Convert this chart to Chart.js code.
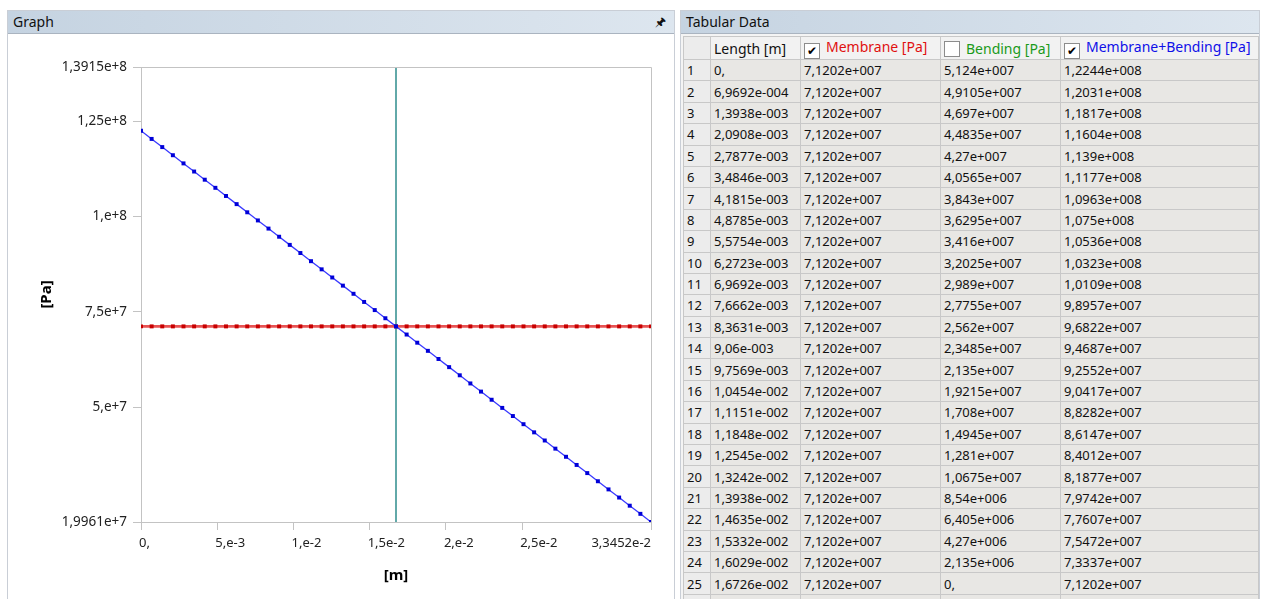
<!DOCTYPE html>
<html>
<head>
<meta charset="utf-8">
<script src="https://cdn.jsdelivr.net/npm/chart.js@4"></script>
<style>
  html, body { margin: 0; padding: 0; background: #fff; }
  body { width: 1262px; height: 599px; position: relative; overflow: hidden; font-family: "Noto Sans", sans-serif; }
  .panel { position: absolute; top: 10px; border: 1px solid #c9ced6; background: #fff; }
  .panel .bar {
    height: 22px; line-height: 22px; padding-left: 5px; font-size: 14px; color: #111;
    background: linear-gradient(to right, #c5d3e1, #dde6ef);
    border-bottom: 1px solid #aab4c0;
  }
  #graphPanel { left: 7px; width: 666px; height: 600px; }
  #tablePanel { left: 680px; width: 578px; height: 600px; background: #f4f4f4; }
  .pin { position: absolute; right: 8px; top: 0; font-size: 12px; }
  #chartBox { position: absolute; left: 0; top: 23px; }
  table { border-collapse: collapse; table-layout: fixed; font-size: 13px; color: #111; margin: 2px 0 0 2px; }
  td, th { border: 1px solid #c8c8c8; height: 20.4px; padding: 0 0 0 3px; white-space: nowrap; overflow: hidden; text-align: left; font-weight: normal; }
  th { background: #f2f2f2; height: 19px; line-height: 19px; font-size: 14px; }
  td { background: #e8e7e4; }
  td.num, th.num { background: #ececec; }
  .chk { display: inline-block; width: 14px; height: 14px; border: 1px solid #8c8c8c; background: #fff; vertical-align: -3px; margin-right: 6px; font-size: 12px; line-height: 14px; text-align: center; color: #000; }
</style>
</head>
<body>
<div class="panel" id="graphPanel">
  <div class="bar">Graph<span class="pin">&#x1F588;</span></div>
  <div id="chartBox"><canvas id="graph" width="665" height="566"></canvas></div>
</div>
<div class="panel" id="tablePanel">
  <div class="bar">Tabular Data</div>
  <table id="tab">
    <colgroup><col style="width:27px"><col style="width:90px"><col style="width:140px"><col style="width:120px"><col style="width:198px"></colgroup>
    <thead>
      <tr>
        <th class="num"></th>
        <th>Length [m]</th>
        <th><span class="chk">&#10004;</span><span style="color:#e01010">Membrane [Pa]</span></th>
        <th><span class="chk"></span><span style="color:#1a9a1a">Bending [Pa]</span></th>
        <th><span class="chk">&#10004;</span><span style="color:#1010e8">Membrane+Bending [Pa]</span></th>
      </tr>
    </thead>
    <tbody></tbody>
  </table>
</div>

<script>
// path length along the linearization line [m]
const lengths = [
  0, 6.9692e-4, 1.3938e-3, 2.0908e-3, 2.7877e-3, 3.4846e-3, 4.1815e-3, 4.8785e-3, 5.5754e-3, 6.2723e-3,
  6.9692e-3, 7.6662e-3, 8.3631e-3, 9.06e-3, 9.7569e-3, 1.0454e-2, 1.1151e-2, 1.1848e-2, 1.2545e-2, 1.3242e-2,
  1.3938e-2, 1.4635e-2, 1.5332e-2, 1.6029e-2, 1.6726e-2, 1.7423e-2, 1.812e-2, 1.8817e-2, 1.9514e-2, 2.0211e-2,
  2.0908e-2, 2.1604e-2, 2.2301e-2, 2.2998e-2, 2.3695e-2, 2.4392e-2, 2.5089e-2, 2.5786e-2, 2.6483e-2, 2.718e-2,
  2.7877e-2, 2.8574e-2, 2.9271e-2, 2.9968e-2, 3.0665e-2, 3.1362e-2, 3.2058e-2, 3.2755e-2, 3.3452e-2
];

const membrane = [
  7.1202e7, 7.1202e7, 7.1202e7, 7.1202e7, 7.1202e7, 7.1202e7, 7.1202e7, 7.1202e7, 7.1202e7, 7.1202e7,
  7.1202e7, 7.1202e7, 7.1202e7, 7.1202e7, 7.1202e7, 7.1202e7, 7.1202e7, 7.1202e7, 7.1202e7, 7.1202e7,
  7.1202e7, 7.1202e7, 7.1202e7, 7.1202e7, 7.1202e7, 7.1202e7, 7.1202e7, 7.1202e7, 7.1202e7, 7.1202e7,
  7.1202e7, 7.1202e7, 7.1202e7, 7.1202e7, 7.1202e7, 7.1202e7, 7.1202e7, 7.1202e7, 7.1202e7, 7.1202e7,
  7.1202e7, 7.1202e7, 7.1202e7, 7.1202e7, 7.1202e7, 7.1202e7, 7.1202e7, 7.1202e7, 7.1202e7
];

const bending = [
  5.124e7, 4.9105e7, 4.697e7, 4.4835e7, 4.27e7, 4.0565e7, 3.843e7, 3.6295e7, 3.416e7, 3.2025e7,
  2.989e7, 2.7755e7, 2.562e7, 2.3485e7, 2.135e7, 1.9215e7, 1.708e7, 1.4945e7, 1.281e7, 1.0675e7,
  8.54e6, 6.405e6, 4.27e6, 2.135e6, 0, -2.135e6, -4.27e6, -6.405e6, -8.54e6, -1.0675e7,
  -1.281e7, -1.4945e7, -1.708e7, -1.9215e7, -2.135e7, -2.3485e7, -2.562e7, -2.7755e7, -2.989e7, -3.2025e7,
  -3.416e7, -3.6295e7, -3.843e7, -4.0565e7, -4.27e7, -4.4835e7, -4.697e7, -4.9105e7, -5.124e7
];

const memBend = [
  1.2244e8, 1.2031e8, 1.1817e8, 1.1604e8, 1.139e8, 1.1177e8, 1.0963e8, 1.075e8, 1.0536e8, 1.0323e8,
  1.0109e8, 9.8957e7, 9.6822e7, 9.4687e7, 9.2552e7, 9.0417e7, 8.8282e7, 8.6147e7, 8.4012e7, 8.1877e7,
  7.9742e7, 7.7607e7, 7.5472e7, 7.3337e7, 7.1202e7, 6.9067e7, 6.6932e7, 6.4797e7, 6.2662e7, 6.0527e7,
  5.8392e7, 5.6257e7, 5.4122e7, 5.1987e7, 4.9852e7, 4.7717e7, 4.5582e7, 4.3447e7, 4.1312e7, 3.9177e7,
  3.7042e7, 3.4907e7, 3.2772e7, 3.0637e7, 2.8502e7, 2.6367e7, 2.4232e7, 2.2097e7, 1.9961e7
];

const xTicks = [0, 5e-3, 1e-2, 1.5e-2, 2e-2, 2.5e-2, 3.3452e-2];
const yTicks = [1.9961e7, 5e7, 7.5e7, 1e8, 1.25e8, 1.3915e8];
const cursorX = 1.6726e-2;

// 1,2345e+007 style numbers
function fmt(v, pad) {
  if (v === 0) return '0,';
  let [m, e] = v.toExponential(4).split('e');
  m = m.replace(/0+$/, '').replace('.', ',');
  let digits = e.slice(1);
  if (pad) digits = digits.padStart(3, '0');
  return m + 'e' + e[0] + digits;
}

// table rows
const tbody = document.querySelector('#tab tbody');
lengths.forEach((len, i) => {
  const tr = document.createElement('tr');
  [String(i + 1), fmt(len, true), fmt(membrane[i], true), fmt(bending[i], true), fmt(memBend[i], true)]
    .forEach((t, j) => {
      const td = document.createElement('td');
      if (j === 0) td.className = 'num';
      td.textContent = t;
      tr.appendChild(td);
    });
  tbody.appendChild(tr);
});

const FONT = '"Noto Sans", sans-serif';
const AXIS_COLOR = '#c3c3c3';

// frame on top/right and custom x labels (first left-aligned, last right-aligned)
const framePlugin = {
  id: 'frame',
  afterDraw(chart) {
    const { ctx, chartArea: a, scales } = chart;
    ctx.save();
    ctx.strokeStyle = AXIS_COLOR;
    ctx.lineWidth = 1;
    ctx.beginPath();
    ctx.moveTo(a.left, Math.round(a.top) + 0.5);
    ctx.lineTo(Math.round(a.right) + 0.5, Math.round(a.top) + 0.5);
    ctx.lineTo(Math.round(a.right) + 0.5, a.bottom);
    ctx.stroke();

    ctx.font = '13px ' + FONT;
    ctx.fillStyle = '#222';
    ctx.textBaseline = 'middle';
    xTicks.forEach((t, i) => {
      const px = scales.x.getPixelForValue(t);
      ctx.textAlign = i === xTicks.length - 1 ? 'right' : 'left';
      ctx.fillText(fmt(t, false), i === xTicks.length - 1 ? px : px - 2, a.bottom + 21);
    });
    ctx.restore();
  }
};

const pts = arr => lengths.map((x, i) => ({ x: x, y: arr[i] }));

new Chart(document.getElementById('graph'), {
  type: 'line',
  data: {
    datasets: [{
      label: 'Membrane+Bending [Pa]',
      data: pts(memBend),
      borderColor: '#3a3aff',
      borderWidth: 1.3,
      pointStyle: 'rect',
      pointRadius: 2.8,
      pointBorderWidth: 0,
      pointBackgroundColor: '#0000d8',
      order: 0
    }, {
      label: 'Membrane [Pa]',
      data: pts(membrane),
      borderColor: 'rgba(225,40,40,0.8)',
      borderWidth: 2.8,
      pointStyle: 'rect',
      pointRadius: 2.8,
      pointBorderWidth: 0,
      pointBackgroundColor: '#c80000',
      order: 1
    }, {
      label: 'cursor',
      data: [{ x: cursorX, y: yTicks[0] }, { x: cursorX, y: yTicks[yTicks.length - 1] }],
      borderColor: '#2e8c8c',
      borderWidth: 1.5,
      pointRadius: 0,
      order: 2
    }]
  },
  options: {
    responsive: false,
    animation: false,
    layout: { padding: { top: 33, right: 22, left: 0, bottom: 0 } },
    plugins: { legend: { display: false }, tooltip: { enabled: false } },
    scales: {
      x: {
        type: 'linear',
        min: xTicks[0],
        max: xTicks[xTicks.length - 1],
        afterBuildTicks: s => { s.ticks = xTicks.map(v => ({ value: v })); },
        afterFit: s => { s.height = 78; },
        grid: { drawOnChartArea: false, drawTicks: true, tickLength: 8, color: AXIS_COLOR },
        border: { color: AXIS_COLOR },
        ticks: { display: false },
        title: { display: true, text: '[m]', color: '#000', font: { family: FONT, size: 15, weight: 'bold' }, padding: { top: 0, bottom: 15 } }
      },
      y: {
        type: 'linear',
        min: yTicks[0],
        max: yTicks[yTicks.length - 1],
        afterBuildTicks: s => { s.ticks = yTicks.map(v => ({ value: v })); },
        afterFit: s => { s.width = 133; },
        grid: { drawOnChartArea: false, drawTicks: true, tickLength: 8, color: AXIS_COLOR },
        border: { color: AXIS_COLOR },
        ticks: { color: '#222', padding: 6, font: { family: FONT, size: 13.5 }, callback: v => fmt(v, false) },
        title: { display: true, text: '[Pa]', color: '#000', font: { family: FONT, size: 15, weight: 'bold' }, padding: { top: 30, bottom: 0 } }
      }
    }
  },
  plugins: [framePlugin]
});
</script>
</body>
</html>
